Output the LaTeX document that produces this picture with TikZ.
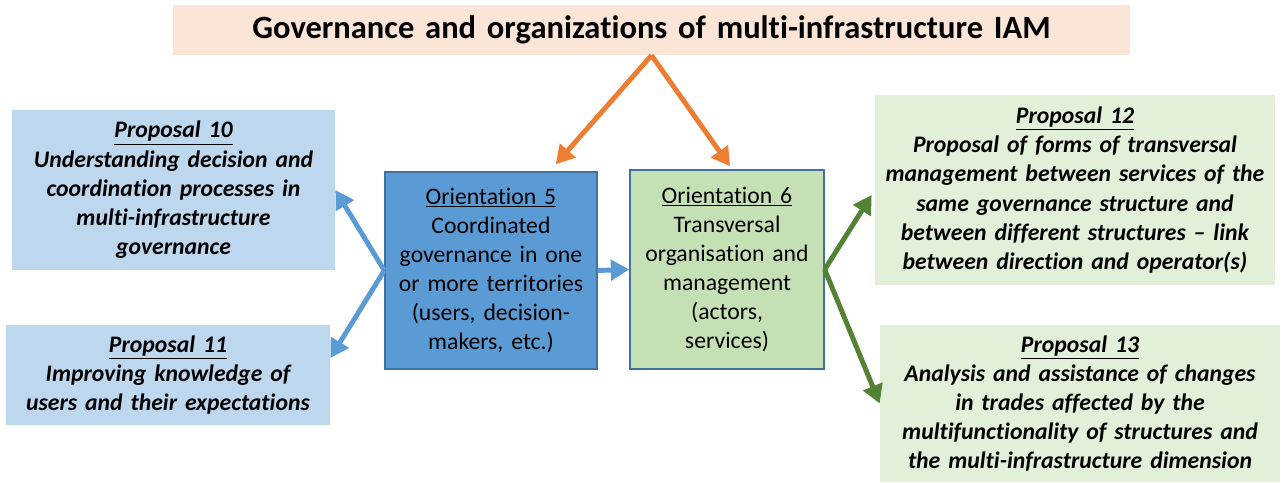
\documentclass[tikz,border=0pt]{standalone}
\usepackage{fontspec}
\setmainfont{Carlito}[Ligatures=NoCommon]
\usetikzlibrary{arrows.meta}

\definecolor{titlefill}{HTML}{FBE5D6}
\definecolor{propblue}{HTML}{BDD7EE}
\definecolor{orientblue}{HTML}{5B9BD5}
\definecolor{orientgreen}{HTML}{C5E0B4}
\definecolor{propgreen}{HTML}{E2F0D9}
\definecolor{edgeblue}{HTML}{41719C}
\definecolor{arroworange}{HTML}{ED7D31}
\definecolor{arrowgreen}{HTML}{548235}

\tikzset{
  box/.style={inner sep=0pt, align=center, text width=#1, minimum width=#1},
  titlebox/.style={box=19.14cm, fill=titlefill, minimum height=1cm,
    font=\fontsize{18.5}{22}\selectfont\bfseries},
  propbox/.style={box=#1, font=\fontsize{13.5}{16.6}\selectfont\bfseries\itshape},
  orientbox/.style={box=#1, draw=edgeblue, line width=0.8pt,
    font=\fontsize{13.5}{16.6}\selectfont},
  link/.style={line width=2.8pt, -{Triangle[length=10.5pt,width=11.5pt]}},
}

\begin{document}
\begin{tikzpicture}[x=0.02cm, y=-0.02cm]

\useasboundingbox (0,0) rectangle (1282,483);

\node[titlebox] (title) at (651.5,30) {Governance and organizations of multi-infrastructure IAM};

\node[propbox=6.46cm, fill=propblue, minimum height=3.2cm] (p10) at (173.5,190)
  {\underline{Proposal 10}\\Understanding decision and\\coordination processes in\\multi-infrastructure\\governance};
\node[propbox=6.48cm, fill=propblue, minimum height=2cm] (p11) at (168,375)
  {\underline{Proposal 11}\\Improving knowledge of\\users and their expectations};

\node[orientbox=4.24cm, fill=orientblue, minimum height=3.94cm] (o5) at (491,270.5)
  {\underline{Orientation 5}\\Coordinated\\governance in one\\or more territories\\(users, decision-\\makers, etc.)};
\node[orientbox=3.88cm, fill=orientgreen, minimum height=3.98cm] (o6) at (727,269.5)
  {\underline{Orientation 6}\\Transversal\\organisation and\\management\\(actors,\\services)};

\node[propbox=8cm, fill=propgreen, minimum height=3.8cm] (p12) at (1075,190)
  {\underline{Proposal 12}\\Proposal of forms of transversal\\management between services of the\\same governance structure and\\between different structures -- link\\between direction and operator(s)};
\node[propbox=8cm, fill=propgreen, minimum height=3.14cm] (p13) at (1080,403.5)
  {\underline{Proposal 13}\\Analysis and assistance of changes\\in trades affected by the\\multifunctionality of structures and\\the multi-infrastructure dimension};

\draw[link, arroworange] (title.south) -- ([xshift=-0.84cm, yshift=0.14cm]o5.north east);
\draw[link, arroworange] (title.south) -- ([xshift=0.06cm, yshift=0.06cm]o6.north);

\draw[link, orientblue] (o5.west) -- (p10.east);
\draw[link, orientblue] (o5.west) -- ([yshift=0.34cm]p11.east);
\draw[link, orientblue] (o5.east) -- (o6.west);

\draw[link, arrowgreen] (o6.east) -- ([xshift=-0.06cm, yshift=-0.1cm]p12.west);
\draw[link, arrowgreen] (o6.east) -- (p13.west);

\end{tikzpicture}
\end{document}
